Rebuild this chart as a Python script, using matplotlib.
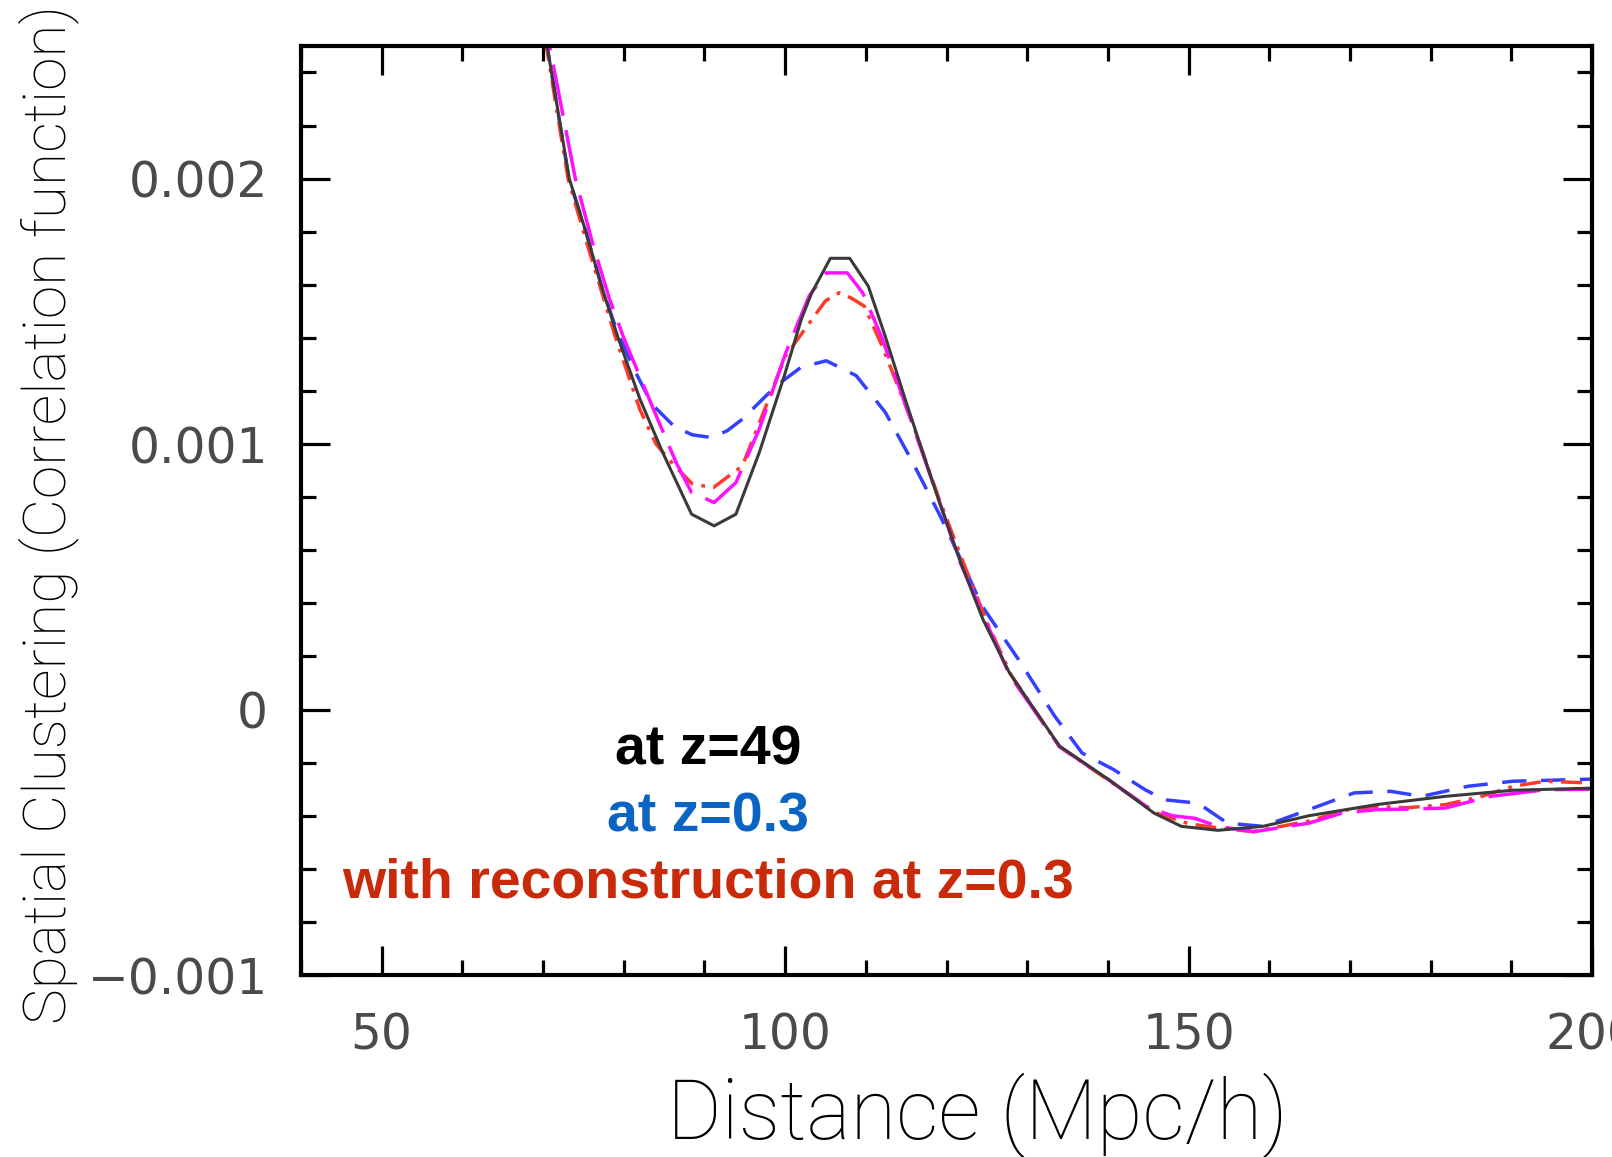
import matplotlib
matplotlib.use("Agg")
import matplotlib.pyplot as plt
from matplotlib.ticker import MultipleLocator, FixedLocator, FixedFormatter

# distance (Mpc/h) and correlation function values (units of 1e-3)
r_z49 = [68.5, 70.5, 73.25, 75.3, 77.2, 79.3, 82.0, 84.8, 88.4, 91.2, 93.9, 96.8, 99.9,
         102.0, 103.3, 105.6, 108.0, 110.3, 112.4, 115.0, 118.7, 121.6, 124.5, 127.8,
         134.0, 140.1, 145.7, 149.1, 153.6, 159.2, 164.9, 173.3, 181.8, 190.2, 200.0]
xi_z49 = [2.86, 2.50, 2.00, 1.80, 1.60, 1.40, 1.17, 0.97, 0.736, 0.692, 0.736, 0.969, 1.258,
          1.47, 1.57, 1.70, 1.70, 1.595, 1.406, 1.157, 0.818, 0.566, 0.34, 0.138,
          -0.138, -0.264, -0.39, -0.44, -0.455, -0.44, -0.40, -0.358, -0.327, -0.304, -0.296]

r_z03 = [68.5, 70.5, 73.2, 75.3, 77.2, 79.1, 81.3, 83.5, 86.3, 88.5, 90.8, 92.8, 94.7,
         98.9, 102.0, 105.1, 108.8, 112.4, 115.6, 119.2, 122.0, 124.4, 128.9, 133.4,
         136.8, 140.7, 144.6, 147.0, 150.3, 152.0, 154.8, 159.2, 164.9, 170.5, 175.0,
         178.9, 184.6, 190.2, 200.0]
xi_z03 = [2.86, 2.50, 2.00, 1.80, 1.60, 1.43, 1.28, 1.15, 1.065, 1.035, 1.025, 1.05, 1.094,
          1.22, 1.29, 1.314, 1.258, 1.12, 0.943, 0.73, 0.55, 0.39, 0.189, -0.025,
          -0.164, -0.226, -0.302, -0.34, -0.35, -0.37, -0.428, -0.44, -0.377, -0.314, -0.308,
          -0.327, -0.289, -0.27, -0.262]

r_rec = [68.5, 70.4, 73.1, 75.2, 77.0, 79.0, 82.0, 84.0, 86.3, 88.5, 91.1, 94.7, 97.8,
         100.0, 103.0, 105.0, 106.7, 108.2, 109.8, 112.0, 115.6, 119.0, 122.0, 125.0,
         128.0, 134.0, 140.0, 146.0, 150.0, 153.6, 158.0, 164.9, 170.0, 173.3, 177.0,
         181.8, 186.0, 190.2, 194.2, 200.0]
xi_rec = [2.86, 2.50, 2.00, 1.78, 1.60, 1.40, 1.13, 1.00, 0.918, 0.85, 0.836, 0.918, 1.157,
          1.33, 1.456, 1.54, 1.57, 1.55, 1.52, 1.37, 1.094, 0.80, 0.56, 0.33,
          0.13, -0.14, -0.265, -0.39, -0.43, -0.446, -0.46, -0.42, -0.375, -0.365, -0.37,
          -0.358, -0.33, -0.289, -0.27, -0.277]

r_mag = [68.8, 70.8, 74.0, 76.2, 78.2, 80.0, 83.7, 86.5, 88.4, 91.2, 93.9, 96.8, 100.1,
         103.0, 105.1, 107.7, 109.6, 112.0, 115.0, 118.7, 121.6, 127.8, 134.0, 140.1,
         145.0, 148.0, 150.8, 153.6, 158.1, 164.9, 169.0, 173.3, 177.0, 181.8, 187.4,
         194.2, 200.0]
xi_mag = [2.86, 2.50, 2.00, 1.75, 1.55, 1.40, 1.13, 0.93, 0.818, 0.78, 0.855, 1.057, 1.346,
          1.56, 1.645, 1.645, 1.57, 1.40, 1.14, 0.82, 0.56, 0.13, -0.14, -0.265,
          -0.37, -0.40, -0.41, -0.44, -0.46, -0.428, -0.39, -0.377, -0.375, -0.371, -0.327,
          -0.302, -0.30]

xtick_vals = [50, 100, 150, 200]
xtick_labels = ["50", "100", "150", "200"]
ytick_vals = [-0.001, 0.0, 0.001, 0.002]
ytick_labels = ["\u22120.001", "0", "0.001", "0.002"]

notes = ["at z=49", "at z=0.3", "with reconstruction at z=0.3"]
note_colors = ["black", "#0a64c4", "#c82a0a"]

s = 1e-3
fig = plt.figure(figsize=(16.12, 11.57), dpi=100)
ax = fig.add_axes([0.1867, 0.1573, 0.801, 0.803])

ax.plot(r_z03, [v * s for v in xi_z03], color="#3340ff", lw=2.5, dashes=(7, 4.2))
ax.plot(r_rec, [v * s for v in xi_rec], color="#ff3a2a", lw=2.5, dashes=(6, 2.4, 1.1, 2.4))
ax.plot(r_mag, [v * s for v in xi_mag], color="#ff10ff", lw=2.5, dashes=(15, 4.2))
ax.plot(r_z49, [v * s for v in xi_z49], color="#3a3a3a", lw=2.2)

ax.set_xlim(40, 200)
ax.set_ylim(-0.001, 0.0025)

ax.xaxis.set_major_locator(FixedLocator(xtick_vals))
ax.xaxis.set_major_formatter(FixedFormatter(xtick_labels))
ax.xaxis.set_minor_locator(MultipleLocator(10))
ax.yaxis.set_major_locator(FixedLocator(ytick_vals))
ax.yaxis.set_major_formatter(FixedFormatter(ytick_labels))
ax.yaxis.set_minor_locator(MultipleLocator(0.0002))

ax.tick_params(which="both", direction="in", top=True, right=True, width=2.3, color="black")
ax.tick_params(which="major", length=21)
ax.tick_params(which="minor", length=11)
ax.tick_params(axis="y", which="major", pad=24, labelsize=35, labelcolor="#4a4a4a")
ax.tick_params(axis="x", which="major", pad=26, labelsize=35, labelcolor="#4a4a4a")
for sp in ax.spines.values():
    sp.set_linewidth(3.0)

fig.text(0.030, 0.555, "Spatial Clustering (Correlation function)", rotation=90,
         ha="center", va="center", fontsize=43.5, family="Roboto", fontweight="light")
fig.text(0.606, 0.036, "Distance (Mpc/h)", ha="center", va="center",
         fontsize=60, family="Roboto", fontweight="light")

for i, (t, c) in enumerate(zip(notes, note_colors)):
    ax.text(0.315, 0.242 - 0.072 * i, t, color=c, transform=ax.transAxes,
            ha="center", va="center", fontsize=40, fontweight="bold",
            family="Liberation Sans")

fig.savefig("out.png", dpi=100)
